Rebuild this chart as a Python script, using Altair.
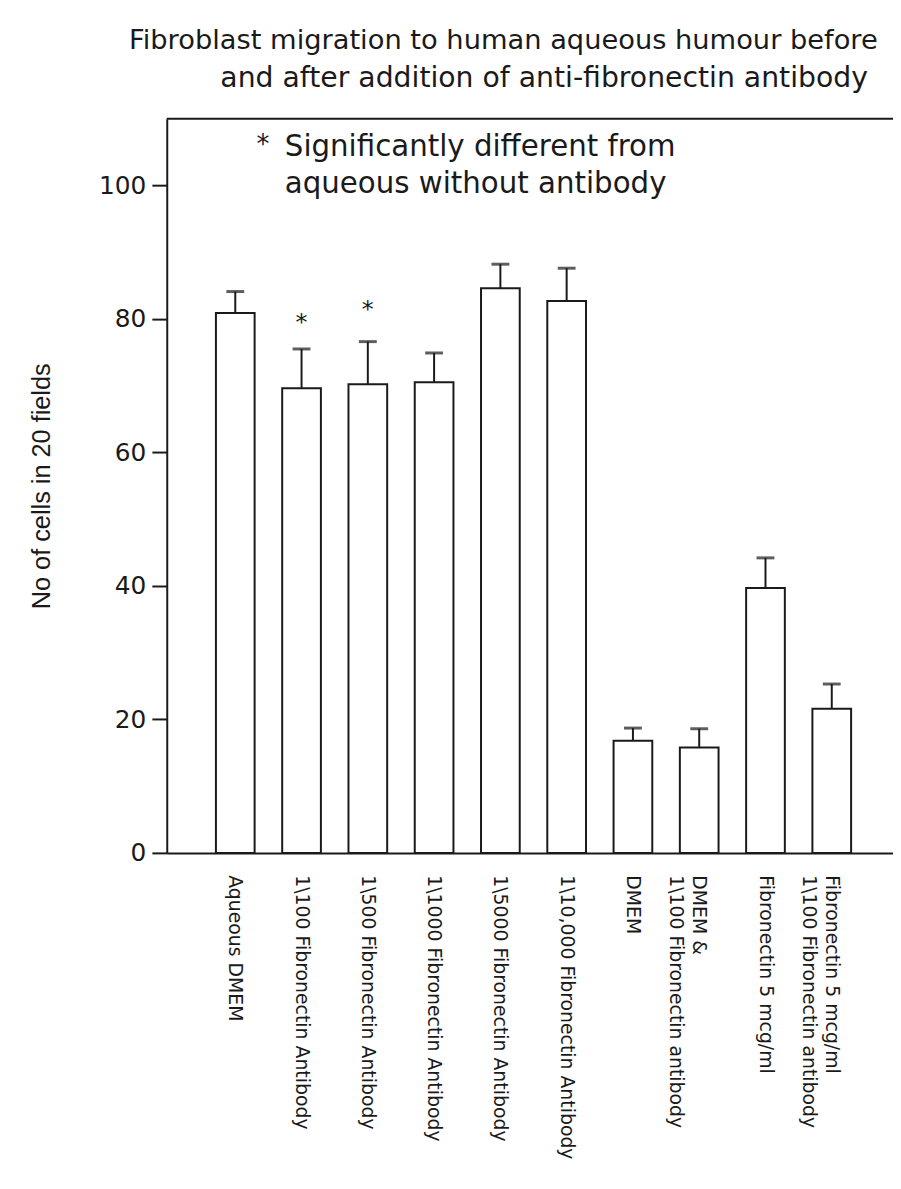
import altair as alt
import pandas as pd

# ---- data ----
categories = [
    "Aqueous DMEM",
    "1\\100 Fibronectin Antibody",
    "1\\500 Fibronectin Antibody",
    "1\\1000 Fibronectin Antibody",
    "1\\5000 Fibronectin Antibody",
    "1\\10,000 Fibronectin Antibody",
    "DMEM",
    "DMEM &|1\\100 Fibronectin antibody",
    "Fibronectin 5 mcg/ml",
    "Fibronectin 5 mcg/ml|1\\100 Fibronectin antibody",
]
means = [80.9, 69.6, 70.2, 70.5, 84.6, 82.7, 16.8, 15.8, 39.7, 21.6]
errors = [3.2, 5.9, 6.4, 4.4, 3.6, 4.9, 1.9, 2.8, 4.5, 3.7]
star_categories = [categories[1], categories[2]]
star_values = [79.8, 81.8]
y_ticks = [0, 20, 40, 60, 80, 100]
y_title = "No of cells in 20 fields"
title_lines = [
    "Fibroblast migration to human aqueous humour before",
    "and after addition of anti-fibronectin antibody",
]
note_lines = ["Significantly different from", "aqueous without antibody"]

INK = "#1a1a1a"
W, H = 732, 740

df = pd.DataFrame({"category": categories, "mean": means,
                   "upper": [m + e for m, e in zip(means, errors)]})
stars = pd.DataFrame({"category": star_categories, "pos": star_values})
one = pd.DataFrame({"k": [0]})

x_enc = alt.X(
    "category:N",
    sort=categories,
    scale=alt.Scale(paddingInner=0.416, paddingOuter=0.687, align=0.54),
    axis=alt.Axis(
        title=None,
        labelAngle=90,
        labelAlign="left",
        labelBaseline="middle",
        labelPadding=22,
        labelFont="DejaVu Sans",
        labelFontSize=19,
        labelColor=INK,
        labelLimit=500,
        labelOverlap=False,
        labelExpr="split(datum.label, '|')",
        labelLineHeight=23,
        ticks=False,
        domainColor=INK,
        domainWidth=2,
    ),
)
y_scale = alt.Scale(domain=[0, 110], nice=False)
y_axis = alt.Axis(
    values=y_ticks,
    grid=False,
    tickSize=15,
    tickWidth=2,
    tickColor=INK,
    domainColor=INK,
    domainWidth=2,
    labelFont="DejaVu Sans",
    labelFontSize=25,
    labelColor=INK,
    labelPadding=6,
    labelExpr="datum.value == 0 ? '0\u00a0\u00a0\u00a0' : datum.label",
    title=y_title,
    titleFont="Liberation Sans",
    titleFontSize=25.5,
    titleFontWeight="normal",
    titleColor=INK,
    titleX=-126,
    titleY=H / 2,
    titleAlign="center",
    titleBaseline="middle",
)

base = alt.Chart(df)
bars = base.mark_bar(fill="white", stroke=INK, strokeWidth=2).encode(
    x=x_enc, y=alt.Y("mean:Q", scale=y_scale, axis=y_axis)
)
err = base.mark_rule(color=INK, strokeWidth=2).encode(
    x=alt.X("category:N", sort=categories), y="mean:Q", y2="upper:Q"
)
caps = base.mark_tick(color=INK, size=18, thickness=3).encode(
    x=alt.X("category:N", sort=categories), y="upper:Q"
)
star_marks = alt.Chart(stars).mark_text(
    text="*", font="DejaVu Sans", fontSize=24, color=INK, baseline="alphabetic", dy=10
).encode(x=alt.X("category:N", sort=categories), y="pos:Q")

top_border = alt.Chart(one).mark_rule(color=INK, strokeWidth=2).encode(
    x=alt.value(0), x2=alt.value(W), y=alt.value(0)
)

def label(txt, x, y, size, align="left", font="DejaVu Sans"):
    return alt.Chart(one).mark_text(
        text=txt, font=font, fontSize=size, color=INK, align=align, baseline="alphabetic"
    ).encode(x=alt.value(x), y=alt.value(y))

texts = [
    label(title_lines[0], -38, -70, 27.5),
    label(title_lines[1], 54, -32, 28.5),
    label("*", 97, 35, 26, align="center"),
    label(note_lines[0], 119, 38, 29.5),
    label(note_lines[1], 119, 75, 29.5),
]

chart = alt.layer(bars, err, caps, star_marks, top_border, *texts).properties(
    width=W,
    height=H,
    padding={"left": 160, "top": 107, "right": 0, "bottom": 310},
    autosize=alt.AutoSizeParams(type="none"),
    background="white",
).configure_view(strokeWidth=0)

chart.save("out.html", embed_options={"renderer": "svg", "actions": False})
